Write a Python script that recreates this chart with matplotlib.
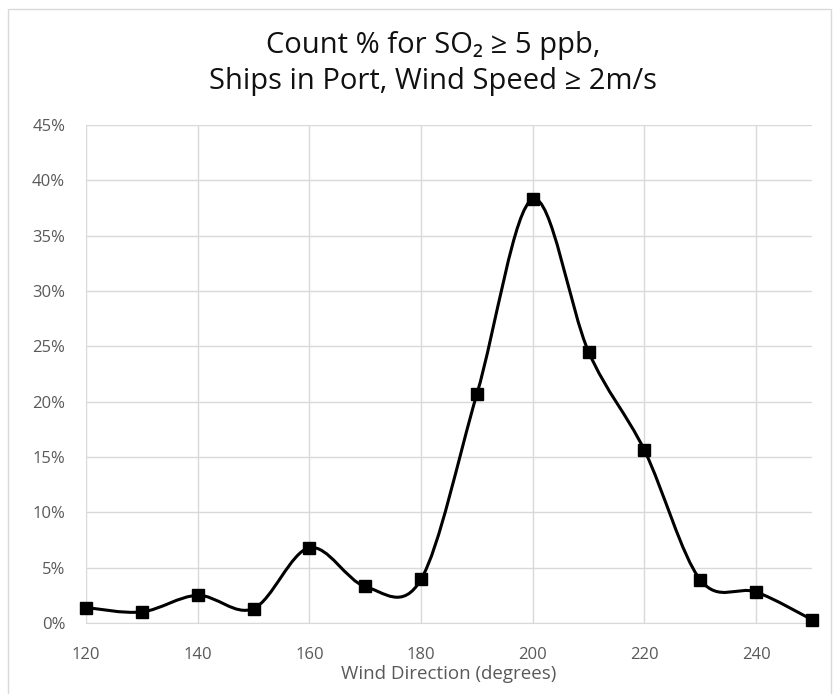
import numpy as np
import matplotlib
matplotlib.use("Agg")
import matplotlib.pyplot as plt
from matplotlib.path import Path
from matplotlib.patches import PathPatch, Rectangle

plt.rcParams['font.family'] = ['Open Sans', 'DejaVu Sans']

# Data
direction = [120, 130, 140, 150, 160, 170, 180, 190, 200, 210, 220, 230, 240, 250]
count_pct = [1.4, 1.0, 2.5, 1.3, 6.8, 3.3, 3.95, 20.7, 38.3, 24.5, 15.6, 3.9, 2.8, 0.3]
x_ticks = [120, 140, 160, 180, 200, 220, 240]
y_ticks = [0, 5, 10, 15, 20, 25, 30, 35, 40, 45]

grid_c = '#d9d9d9'
text_c = '#595959'

fig = plt.figure(figsize=(8.4, 6.94), dpi=100)
ax = fig.add_axes([86 / 840, 1 - 623 / 694, (812 - 86) / 840, (623 - 125) / 694])

# Excel-style smoothed line (Catmull-Rom as cubic Bezier)
x = np.array(direction, dtype=float)
y = np.array(count_pct, dtype=float)
verts = [(x[0], y[0])]
codes = [Path.MOVETO]
n = len(x)
for i in range(n - 1):
    p0 = (x[max(i - 1, 0)], y[max(i - 1, 0)])
    p1 = (x[i], y[i])
    p2 = (x[i + 1], y[i + 1])
    p3 = (x[min(i + 2, n - 1)], y[min(i + 2, n - 1)])
    c1 = (p1[0] + (p2[0] - p0[0]) / 6, p1[1] + (p2[1] - p0[1]) / 6)
    c2 = (p2[0] - (p3[0] - p1[0]) / 6, p2[1] - (p3[1] - p1[1]) / 6)
    verts += [c1, c2, p2]
    codes += [Path.CURVE4] * 3
ax.add_patch(PathPatch(Path(verts, codes), facecolor='none', edgecolor='black',
                       lw=2.2, zorder=3, clip_on=False))
ax.plot(direction, count_pct, ls='none', marker='s', ms=8.5, color='black',
        zorder=4, clip_on=False)

ax.set_xlim(120, 250)
ax.set_ylim(0, 45)
ax.set_xticks(x_ticks)
ax.set_yticks(y_ticks)
ax.set_yticklabels([f'{v}%' for v in y_ticks])
ax.tick_params(length=0, colors=text_c, labelsize=12)
ax.tick_params(axis='y', pad=15)
ax.tick_params(axis='x', pad=17)
ax.grid(True, color=grid_c, lw=1)
ax.set_axisbelow(True)
for s in ['top', 'right', 'left']:
    ax.spines[s].set_visible(False)
ax.spines['bottom'].set_color(grid_c)

ax.set_xlabel('Wind Direction (degrees)', fontsize=13.5, color=text_c, labelpad=2)

fig.text(433 / 840, 1 - 45 / 694, 'Count % for SO₂ ≥ 5 ppb,', ha='center', va='center',
         fontsize=21, color='#111111')
fig.text(433 / 840, 1 - 81 / 694, 'Ships in Port, Wind Speed ≥ 2m/s', ha='center',
         va='center', fontsize=21, color='#111111')

fig.patches.append(Rectangle((8 / 840, -2 / 694), 823 / 840, 687 / 694, transform=fig.transFigure,
                             fill=False, edgecolor=grid_c, lw=1))

fig.savefig('out.png', dpi=100)
